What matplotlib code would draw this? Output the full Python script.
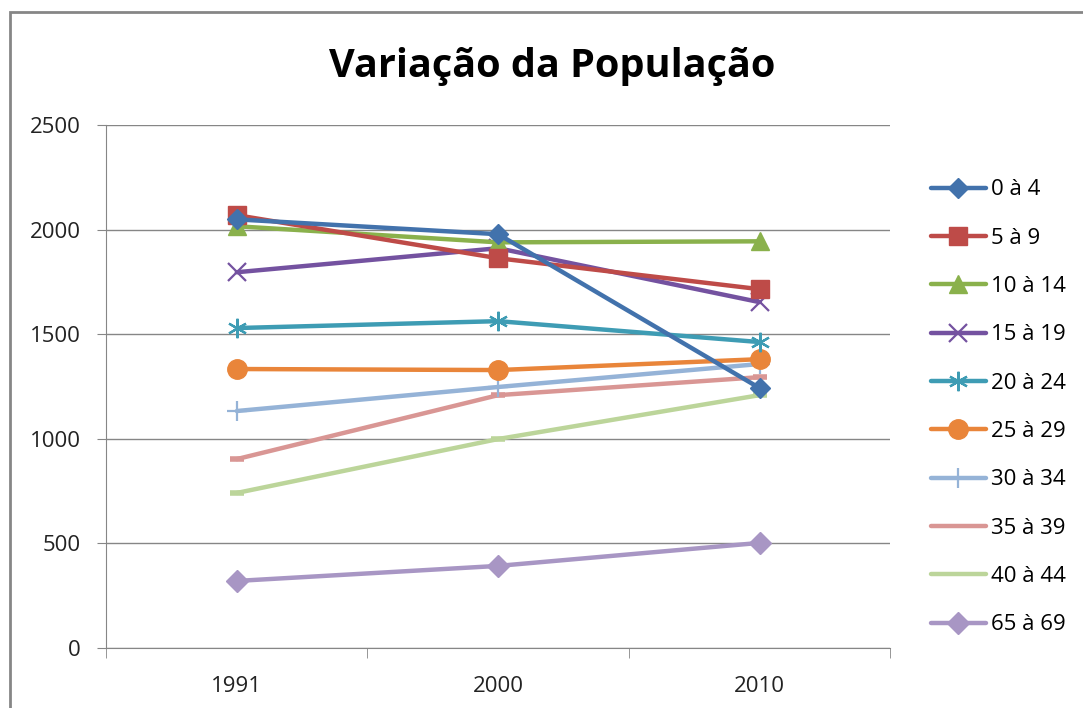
import matplotlib
matplotlib.use("Agg")
import matplotlib.pyplot as plt
from matplotlib.patches import Rectangle

plt.rcParams['font.family'] = ['Open Sans', 'DejaVu Sans']

anos = ['1991', '2000', '2010']
faixas = ['0 à 4', '5 à 9', '10 à 14', '15 à 19', '20 à 24',
          '25 à 29', '30 à 34', '35 à 39', '40 à 44', '65 à 69']

v0_4 = [2050, 1979, 1243]
v5_9 = [2070, 1864, 1716]
v10_14 = [2017, 1940, 1945]
v15_19 = [1797, 1912, 1654]
v20_24 = [1530, 1563, 1463]
v25_29 = [1334, 1329, 1381]
v30_34 = [1133, 1248, 1358]
v35_39 = [903, 1209, 1295]
v40_44 = [741, 999, 1209]
v65_69 = [320, 392, 502]

valores = [v0_4, v5_9, v10_14, v15_19, v20_24, v25_29, v30_34, v35_39, v40_44, v65_69]

cores = ['#4272AC', '#BE4B48', '#8AB14C', '#7452A0', '#3E9CB4',
         '#E9853A', '#95B3D7', '#D99694', '#BCD59A', '#A896C4']
marcadores = ['D', 's', '^', 'x', (6, 2, 0), 'o', '+', '_', '_', 'D']
tamanhos = [10, 13, 13, 13, 14, 14, 14, 10, 10, 11]

fig = plt.figure(figsize=[10.83, 7.08], dpi=100)
ax = fig.add_axes([0.098, 0.085, 0.724, 0.738])

x = range(len(anos))
for i in range(len(faixas)):
    mew = 1.6 if marcadores[i] in ('x', '+') or isinstance(marcadores[i], tuple) else 1
    if marcadores[i] == '_':
        mew = 4
    ax.plot(x, valores[i], color=cores[i], lw=3.2, marker=marcadores[i],
            markersize=tamanhos[i], markeredgewidth=mew, label=faixas[i],
            solid_capstyle='round', zorder=3 + (10 - i) * 0.01)

ax.set_ylim(0, 2500)
ax.set_yticks([0, 500, 1000, 1500, 2000, 2500])
ax.set_xlim(-0.5, 2.5)
ax.set_xticks(list(x))
ax.set_xticklabels(anos)
ax.set_xticks([-0.5, 0.5, 1.5, 2.5], minor=True)
ax.tick_params(axis='x', which='major', length=0, labelsize=16, pad=20, labelcolor='#222222')
ax.tick_params(axis='x', which='minor', length=7, color='#868686')
ax.tick_params(axis='y', length=6.5, color='#868686', labelsize=16, pad=12, labelcolor='#222222')
ax.grid(axis='y', color='#868686', lw=1)
ax.set_axisbelow(True)
for s in ['top', 'right']:
    ax.spines[s].set_visible(False)
for s in ['left', 'bottom']:
    ax.spines[s].set_color('#868686')

fig.suptitle('Variação da População', x=0.51, y=0.933, fontsize=28.5, fontweight='bold')

leg = ax.legend(loc='upper left', bbox_to_anchor=(1.026, 0.935), frameon=False,
                fontsize=16, handlelength=2.5, labelspacing=1.23, handletextpad=0.2)
# no markers on the two plain lines in the legend
for h in leg.legend_handles[7:9]:
    h.set_marker('')

fig.patches.append(Rectangle((10 / 1083, -0.05), 1.2, 1.05 - 12 / 708,
                             transform=fig.transFigure, fill=False,
                             edgecolor='#868686', lw=2))

fig.savefig('out.png', dpi=100)
